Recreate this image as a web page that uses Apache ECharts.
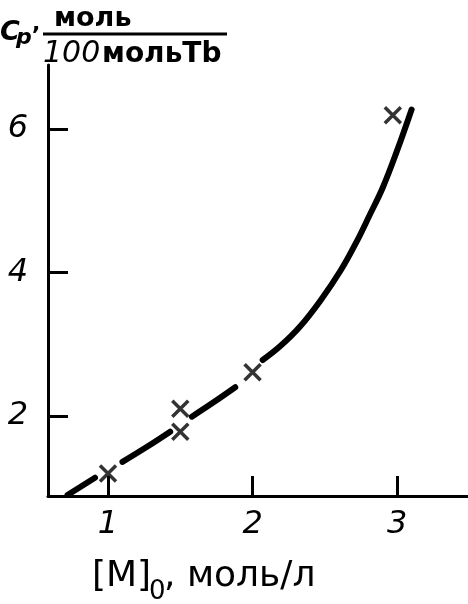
<!DOCTYPE html>
<html>
<head>
<meta charset="utf-8">
<script src="https://cdn.jsdelivr.net/npm/echarts@6/dist/echarts.min.js"></script>
<style>
html,body{margin:0;padding:0;background:#fff;}
#chart{width:468px;height:604px;}
</style>
</head>
<body>
<div id="chart"></div>
<script>
// Measured points (crosses)
const pointX = [1.0, 1.5, 1.5, 2.0, 2.97];
const pointY = [1.2, 2.10, 1.78, 2.61, 6.19];

// Drawn curve (null = interruption of the printed line)
const curveX = [0.72, 0.91, 1.0, 1.10, 1.27, 1.43, 1.5, 1.58, 1.73, 1.88, 2.0, 2.07, 2.19, 2.33, 2.47, 2.61, 2.72, 2.81, 2.90, 3.0, 3.10];
const curveY = [0.90, 1.14, null, 1.36, 1.57, 1.78, null, 1.99, 2.19, 2.40, null, 2.78, 2.97, 3.25, 3.61, 4.03, 4.43, 4.80, 5.18, 5.70, 6.27];

const xTicks = [1, 2, 3];
const yTicks = [2, 4, 6];

const xName = ['[M]', '0', ', моль/л'];
const yName = ['C', 'p', ',', 'моль', '100', 'мольТb'];

const chart = echarts.init(document.getElementById('chart'));

const axisStyle = {lineStyle: {color: '#000', width: 3}};
const tickStyle = {show: true, inside: true, length: 20, lineStyle: {color: '#000', width: 3}};
const labelFont = {color: '#000', fontFamily: 'DejaVu Sans', fontStyle: 'italic', fontSize: 32};

function txt(left, top, text, size, extra) {
  return {type: 'text', left: left, top: top, style: Object.assign({
    text: text, fontFamily: 'DejaVu Sans', fontSize: size, fill: '#000'
  }, extra || {})};
}

chart.setOption({
  animation: false,
  backgroundColor: '#fff',
  grid: {left: 48, top: 65, right: 0, bottom: 108, containLabel: false},
  xAxis: {
    type: 'value', min: 0.585, max: 3.49,
    axisLine: axisStyle,
    axisTick: Object.assign({customValues: xTicks}, tickStyle),
    axisLabel: Object.assign({customValues: xTicks, margin: 13}, labelFont),
    splitLine: {show: false}
  },
  yAxis: {
    type: 'value', min: 0.885, max: 6.89,
    axisLine: axisStyle,
    axisTick: Object.assign({customValues: yTicks}, tickStyle),
    axisLabel: Object.assign({customValues: yTicks, margin: 20}, labelFont),
    splitLine: {show: false}
  },
  graphic: [
    txt(92, 559, xName[0], 36),
    txt(149, 579, xName[1], 26),
    txt(164, 559, xName[2], 36),
    txt(0, 19, yName[0], 27, {fontStyle: 'italic', fontWeight: 'bold'}),
    txt(16, 27, yName[1], 22, {fontStyle: 'italic', fontWeight: 'bold'}),
    txt(32, 13, yName[2], 22, {fontWeight: 'bold'}),
    txt(54, 5, yName[3], 27, {fontWeight: 'bold'}),
    {type: 'line', shape: {x1: 43, y1: 34, x2: 227, y2: 34}, style: {stroke: '#000', lineWidth: 3}},
    txt(43, 39, yName[4], 30, {fontStyle: 'italic'}),
    txt(102, 41, yName[5], 28, {fontWeight: 'bold'})
  ],
  series: [
    {
      type: 'line',
      data: curveX.map((x, i) => [x, curveY[i] === null ? '-' : curveY[i]]),
      smooth: 0.4,
      connectNulls: false,
      showSymbol: false,
      lineStyle: {color: '#000', width: 6, cap: 'round'},
      z: 2
    },
    {
      type: 'scatter',
      data: pointX.map((x, i) => [x, pointY[i]]),
      symbol: 'path://M0,0L10,10M10,0L0,10',
      symbolSize: 16,
      itemStyle: {color: 'rgba(0,0,0,0)', borderColor: '#000', borderWidth: 3.5},
      z: 3
    }
  ]
});
</script>
</body>
</html>
